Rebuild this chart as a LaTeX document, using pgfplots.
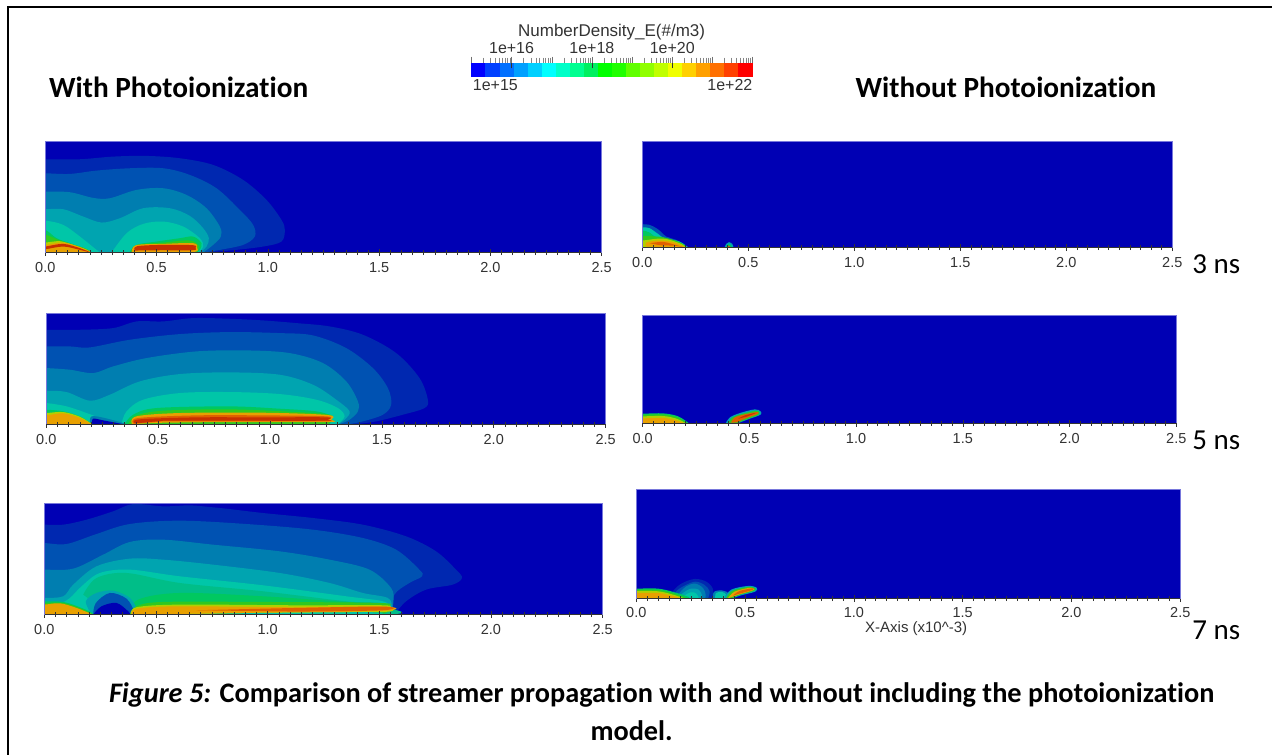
\documentclass[border=0pt]{standalone}
\usepackage{pgfplots}
\pgfplotsset{compat=1.18}
\usepackage{fontspec}
\setmainfont[Ligatures=NoCommon]{Carlito}
\newfontfamily\hv{Liberation Sans}
\definecolor{bg}{HTML}{0000B4}
\definecolor{ca}{HTML}{0028B0}
\definecolor{cb}{HTML}{0052B2}
\definecolor{cc}{HTML}{007EB0}
\definecolor{cd}{HTML}{00A4B0}
\definecolor{ce}{HTML}{00C6A8}
\definecolor{cp}{HTML}{00BE88}
\definecolor{cf}{HTML}{00C860}
\definecolor{cg}{HTML}{30C820}
\definecolor{ch}{HTML}{B0D000}
\definecolor{ci}{HTML}{E8A000}
\definecolor{cj}{HTML}{E06000}
\definecolor{ck}{HTML}{C83000}
\definecolor{edge}{HTML}{7878DC}
\definecolor{tk}{HTML}{333333}
\newcommand\Pg[2]{\addplot[fill=#1,draw=none,smooth,tension=0.55] coordinates {#2} -- cycle;}
\newcommand\Fs[1]{\fontsize{#1}{#1}\selectfont}
\pgfplotsset{
 pn/.style={scale only axis,xmin=0,xmax=2.5,ymin=0,
  axis background/.style={fill=bg},
  axis on top,
  axis x line*=bottom, axis y line=none,
  axis line style={tk,line width=0.8pt,-},
  xtick={0,0.5,1,1.5,2,2.5}, minor x tick num=9,
  tick align=center, major tick length=7pt, minor tick length=5pt,
  tick style={tk,line width=0.6pt},
  every minor tick/.style={tk,line width=0.4pt},
  x tick label style={/pgf/number format/.cd,fixed,fixed zerofill,precision=1,assume math mode=true,/tikz/.cd,font=\hv\Fs{14.5},text=tk,yshift=-3pt},
  filter discard warning=false,
  after end axis/.code={\draw[edge,line width=0.8pt] (rel axis cs:0,0) -- (rel axis cs:0,1) -- (rel axis cs:1,1) -- (rel axis cs:1,0);},
 }
}
\begin{document}
\begin{tikzpicture}[x=1pt,y=1pt]
\path (0,0) rectangle (1273,755);
\draw[black,line width=1.6pt] (8,0) -- (8,748) -- (1273,748);

% Panel 1
\begin{axis}[pn,at={(45.3pt,502.3pt)},anchor=south west,width=556.7pt,height=111pt,ymax=111,
  x filter/.expression={(x-46)/668},y filter/.expression={(368-y)/3}]
\Pg{ca}{(10,368)(10,88)(46,88)(150,88)(250,80)(350,78)(450,85)(550,105)(640,150)(710,210)(755,270)(765,300)(755,335)(700,350)(600,362)(520,368)}
\Pg{cb}{(10,368)(10,130)(46,130)(120,132)(200,122)(300,115)(400,115)(480,135)(560,175)(630,240)(670,285)(675,320)(640,345)(570,360)(520,368)}
\Pg{cc}{(10,368)(10,185)(46,185)(120,187)(190,204)(240,205)(320,180)(400,175)(470,195)(530,235)(570,290)(573,320)(550,345)(520,368)}
\Pg{cd}{(10,368)(10,238)(46,238)(100,238)(160,260)(215,278)(270,265)(340,235)(420,235)(480,258)(520,295)(537,325)(530,350)(510,368)}
\Pg{ce}{(10,368)(10,272)(46,272)(100,285)(150,320)(200,360)(212,368)}
\Pg{ce}{(245,368)(290,310)(340,282)(400,275)(460,290)(510,325)(520,350)(505,368)}
\Pg{cf}{(10,368)(10,300)(46,300)(80,325)(120,340)(150,350)(188,368)}
\Pg{cf}{(298,368)(320,345)(380,335)(450,325)(490,320)(515,340)(510,360)(500,368)}
\Pg{cg}{(10,368)(10,312)(46,314)(90,332)(130,345)(165,355)(186,368)}
\Pg{cg}{(303,368)(318,346)(400,338)(480,332)(508,350)(497,368)}
\Pg{ch}{(10,368)(10,338)(46,338)(90,334)(130,345)(165,357)(186,368)}
\Pg{ci}{(10,368)(10,345)(46,345)(100,338)(150,352)(184,368)}
\Pg{ci}{(306,368)(318,346)(400,342)(490,340)(502,354)(494,366)(400,366)}
\Pg{ck}{(10,352)(46,350)(100,342)(150,355)(182,368)(150,360)(100,350)(46,358)(10,358)}
\Pg{ck}{(314,362)(322,349)(400,345)(490,346)(497,354)(490,361)(400,361)}
\end{axis}

% Panel 2
\begin{axis}[pn,at={(46.3pt,330.7pt)},anchor=south west,width=559.7pt,height=111pt,ymax=111,
  x filter/.expression={(x-49)/672},y filter/.expression={(358-y)/3}]
\Pg{ca}{(10,358)(10,75)(49,75)(150,75)(250,70)(320,50)(400,50)(490,40)(600,42)(700,47)(800,55)(900,65)(1000,90)(1100,145)(1170,220)(1195,285)(1185,310)(1120,330)(1040,350)(980,358)}
\Pg{cb}{(10,358)(10,125)(49,125)(120,125)(180,128)(300,105)(450,88)(600,82)(750,85)(850,92)(950,130)(1030,190)(1075,250)(1085,300)(1060,330)(1000,350)(960,358)}
\Pg{cc}{(10,358)(10,190)(49,190)(120,195)(190,205)(250,185)(350,160)(500,140)(650,137)(780,145)(880,175)(950,230)(985,290)(985,320)(960,345)(930,358)}
\Pg{cd}{(10,358)(10,258)(49,258)(110,262)(180,288)(240,270)(330,230)(450,208)(600,203)(750,210)(850,240)(920,285)(960,320)(945,345)(925,358)}
\Pg{ce}{(10,358)(10,295)(49,295)(110,305)(170,325)(200,338)(190,358)}
\Pg{ce}{(275,358)(290,320)(340,285)(450,265)(600,262)(750,268)(860,285)(925,310)(945,335)(925,358)}
\Pg{cc}{(180,358)(185,335)(225,340)(290,358)}
\Pg{bg}{(186,358)(190,342)(220,347)(278,358)}
\Pg{cf}{(10,358)(10,315)(49,315)(100,320)(150,335)(188,358)}
\Pg{cf}{(285,358)(310,330)(380,310)(600,305)(750,312)(860,320)(905,335)(900,358)}
\Pg{cg}{(295,358)(318,333)(400,318)(600,314)(800,322)(900,330)(906,345)(895,358)}
\Pg{ch}{(10,358)(10,325)(49,325)(100,322)(150,336)(186,358)}
\Pg{ci}{(10,358)(10,332)(49,332)(100,326)(150,340)(184,358)}
\Pg{ci}{(306,358)(320,335)(450,325)(700,324)(895,331)(905,345)(895,352)(600,352)(400,354)}
\Pg{cj}{(312,357)(325,340)(500,332)(700,332)(890,335)(897,345)(885,350)(600,350)(400,350)}
\Pg{ck}{(316,356)(328,344)(500,338)(700,338)(890,338)(893,345)(885,348)(600,348)(400,348)}
\end{axis}

% Panel 3
\begin{axis}[pn,at={(44.3pt,140pt)},anchor=south west,width=558.7pt,height=111.7pt,ymax=111.7,
  x filter/.expression={(x-43)/671},y filter/.expression={(360-y)/3}]
\Pg{ca}{(10,360)(10,90)(43,90)(100,90)(170,75)(250,50)(310,28)(400,35)(480,32)(540,37)(590,42)(700,55)(850,70)(1000,90)(1130,125)(1220,170)(1280,225)(1298,250)(1270,270)(1190,285)(1130,320)(1095,360)}
\Pg{cb}{(10,360)(10,145)(43,145)(110,148)(200,118)(300,88)(450,78)(650,88)(850,105)(1000,130)(1100,165)(1170,225)(1178,245)(1140,265)(1095,300)(1088,360)}
\Pg{cc}{(10,360)(10,225)(43,225)(130,222)(220,180)(300,142)(400,135)(550,150)(750,170)(900,195)(1020,225)(1085,280)(1092,320)(1085,360)}
\Pg{cd}{(10,360)(10,310)(43,310)(100,305)(130,270)(200,215)(300,192)(400,195)(550,210)(750,235)(900,265)(1000,295)(1075,310)(1087,340)(1075,360)}
\Pg{ce}{(10,360)(10,320)(43,320)(90,325)(120,310)(155,275)(210,235)(300,225)(450,245)(700,272)(950,305)(1060,320)(1082,340)(1070,360)}
\Pg{cp}{(160,300)(200,250)(290,235)(450,265)(700,290)(950,320)(1050,325)(1080,340)(1060,360)(300,360)(200,330)}
\Pg{cf}{(300,360)(325,315)(450,295)(700,305)(950,322)(1050,327)(1078,340)(1060,360)}
\Pg{cd}{(185,360)(168,320)(200,295)(250,288)(300,310)(320,345)(300,360)}
\Pg{cb}{(190,360)(198,325)(240,295)(290,312)(312,350)(300,360)}
\Pg{bg}{(190,360)(215,335)(260,325)(295,350)(302,360)}
\Pg{cf}{(10,360)(10,320)(43,320)(100,322)(150,338)(188,355)(188,360)}
\Pg{cg}{(10,360)(10,325)(43,325)(100,325)(150,340)(186,358)}
\Pg{ci}{(10,360)(10,330)(43,330)(90,326)(140,340)(184,358)}
\Pg{cg}{(300,360)(320,335)(400,322)(700,322)(1050,325)(1080,335)(1075,352)(1050,356)}
\Pg{ch}{(304,360)(320,338)(450,330)(800,332)(1062,332)(1076,340)(1062,352)(700,356)}
\Pg{ci}{(306,360)(322,342)(450,335)(800,338)(1070,336)(1060,349)(700,354)}
\Pg{cj}{(500,347)(800,340)(1066,336)(1060,347)(800,351)}
\Pg{ce}{(420,360)(700,355)(1040,353)(1040,360)}
\end{axis}

% Panel 4
\begin{axis}[pn,at={(642.7pt,507.3pt)},anchor=south west,width=530.3pt,height=106.7pt,ymax=106.7,
  x filter/.expression={(x-38)/636.4},y filter/.expression={(113-y)/3}]
\Pg{cb}{(10,113)(10,43)(38,43)(60,45)(85,58)(110,80)(140,90)(177,113)}
\Pg{ce}{(10,113)(10,52)(38,52)(60,55)(85,72)(105,85)(150,95)(176,113)}
\Pg{cf}{(10,113)(10,62)(38,62)(60,68)(85,85)(140,95)(173,113)}
\Pg{cg}{(10,113)(10,78)(38,78)(100,82)(150,97)(172,113)}
\Pg{ch}{(10,113)(10,92)(38,92)(100,86)(150,100)(171,113)}
\Pg{ci}{(50,110)(50,98)(90,92)(135,98)(168,113)}
\Pg{cj}{(60,100)(100,96)(130,103)(165,113)(140,108)(90,106)}
\Pg{cd}{(285,113)(290,102)(298,97)(308,102)(312,113)}
\Pg{cf}{(290,113)(293,106)(298,102)(304,106)(307,113)}
\Pg{cj}{(294,113)(298,107)(303,113)}
\end{axis}

% Panel 5
\begin{axis}[pn,at={(643pt,331.7pt)},anchor=south west,width=534pt,height=107.3pt,ymax=107.3,
  x filter/.expression={(x-38)/640.8},y filter/.expression={(85-y)/3}]
\Pg{cf}{(10,85)(10,57)(38,57)(100,56)(145,65)(176,85)}
\Pg{cg}{(10,85)(10,60)(38,60)(100,59)(142,68)(172,85)}
\Pg{ch}{(10,85)(10,65)(38,65)(100,64)(140,72)(167,85)}
\Pg{ci}{(10,85)(10,71)(38,71)(100,70)(135,76)(162,85)}
\Pg{cd}{(288,85)(300,68)(330,55)(375,44)(392,50)(392,60)(360,72)(325,85)}
\Pg{cg}{(296,85)(308,68)(335,58)(378,48)(388,53)(385,61)(355,72)(322,85)}
\Pg{cj}{(303,84)(315,68)(340,60)(382,52)(383,58)(350,70)(320,83)}
\Pg{ck}{(325,72)(345,62)(380,54)(350,66)}
\end{axis}

% Panel 6
\begin{axis}[pn,at={(636.7pt,156pt)},anchor=south west,width=544.3pt,height=109pt,ymax=109,
  x filter/.expression={(x-35)/653},y filter/.expression={(117-y)/3},
  x tick label style={yshift=1pt}]
\Pg{ca}{(140,117)(145,95)(170,72)(210,58)(245,66)(265,88)(262,117)}
\Pg{cb}{(150,117)(155,95)(180,78)(212,66)(240,76)(255,95)(250,117)}
\Pg{cc}{(160,105)(185,80)(212,72)(235,85)(243,105)(235,117)(170,117)}
\Pg{cd}{(165,108)(195,88)(222,90)(232,108)(225,117)(175,117)}
\Pg{ce}{(172,112)(198,98)(215,102)(220,117)(180,117)}
\Pg{cf}{(10,117)(10,87)(35,87)(100,87)(150,98)(192,112)(192,117)}
\Pg{cg}{(10,117)(10,90)(35,90)(100,91)(150,102)(188,117)}
\Pg{ch}{(10,117)(10,94)(35,94)(100,95)(145,105)(182,117)}
\Pg{ci}{(10,117)(10,100)(35,100)(100,100)(140,108)(175,117)}
\Pg{cc}{(264,117)(268,97)(290,92)(310,100)(305,117)}
\Pg{ce}{(272,117)(274,100)(292,97)(304,104)(298,117)}
\Pg{cd}{(298,117)(320,90)(370,79)(396,84)(392,96)(350,107)(322,117)}
\Pg{cg}{(304,117)(322,94)(370,82)(392,86)(388,94)(350,104)(322,116)}
\Pg{ci}{(310,116)(330,96)(372,85)(388,87)(385,92)(345,104)}
\Pg{cj}{(325,108)(345,94)(385,86)(383,91)(345,102)}
\end{axis}

% Colour bar
\begin{axis}[scale only axis,at={(471.7pt,678.3pt)},anchor=south west,width=281.3pt,height=14pt,
  xmin=15,xmax=22,ymin=0,ymax=1,axis y line=none,axis x line*=top,
  axis line style={draw=none},axis on top,
  xtick={15,16,17,18,19,20,21,22},xticklabels={,1e+16,,1e+18,,1e+20,,},
  minor xtick={15.301,15.477,15.602,15.699,15.778,15.845,15.903,15.954,16.301,16.477,16.602,16.699,16.778,16.845,16.903,16.954,17.301,17.477,17.602,17.699,17.778,17.845,17.903,17.954,18.301,18.477,18.602,18.699,18.778,18.845,18.903,18.954,19.301,19.477,19.602,19.699,19.778,19.845,19.903,19.954,20.301,20.477,20.602,20.699,20.778,20.845,20.903,20.954,21.301,21.477,21.602,21.699,21.778,21.845,21.903,21.954},
  tick align=outside,major tick length=6pt,minor tick length=5pt,
  tick style={color=tk!70,line width=0.4pt},
  every minor tick/.style={color=tk!60,line width=0.4pt},
  x tick label style={font=\hv\Fs{16},text=tk,yshift=-1pt},clip=false]
\addplot[fill={rgb,255:red,0;green,0;blue,255},draw=none] coordinates {(15,0)(15,1)(15.35,1)(15.35,0)} -- cycle;
\addplot[fill={rgb,255:red,0;green,64;blue,255},draw=none] coordinates {(15.35,0)(15.35,1)(15.7,1)(15.7,0)} -- cycle;
\addplot[fill={rgb,255:red,0;green,112;blue,255},draw=none] coordinates {(15.7,0)(15.7,1)(16.05,1)(16.05,0)} -- cycle;
\addplot[fill={rgb,255:red,0;green,160;blue,255},draw=none] coordinates {(16.05,0)(16.05,1)(16.4,1)(16.4,0)} -- cycle;
\addplot[fill={rgb,255:red,0;green,208;blue,255},draw=none] coordinates {(16.4,0)(16.4,1)(16.75,1)(16.75,0)} -- cycle;
\addplot[fill={rgb,255:red,0;green,255;blue,255},draw=none] coordinates {(16.75,0)(16.75,1)(17.1,1)(17.1,0)} -- cycle;
\addplot[fill={rgb,255:red,0;green,255;blue,200},draw=none] coordinates {(17.1,0)(17.1,1)(17.45,1)(17.45,0)} -- cycle;
\addplot[fill={rgb,255:red,0;green,255;blue,144},draw=none] coordinates {(17.45,0)(17.45,1)(17.8,1)(17.8,0)} -- cycle;
\addplot[fill={rgb,255:red,0;green,240;blue,96},draw=none] coordinates {(17.8,0)(17.8,1)(18.15,1)(18.15,0)} -- cycle;
\addplot[fill={rgb,255:red,0;green,255;blue,0},draw=none] coordinates {(18.15,0)(18.15,1)(18.5,1)(18.5,0)} -- cycle;
\addplot[fill={rgb,255:red,32;green,255;blue,0},draw=none] coordinates {(18.5,0)(18.5,1)(18.85,1)(18.85,0)} -- cycle;
\addplot[fill={rgb,255:red,96;green,255;blue,0},draw=none] coordinates {(18.85,0)(18.85,1)(19.2,1)(19.2,0)} -- cycle;
\addplot[fill={rgb,255:red,144;green,255;blue,0},draw=none] coordinates {(19.2,0)(19.2,1)(19.55,1)(19.55,0)} -- cycle;
\addplot[fill={rgb,255:red,192;green,255;blue,0},draw=none] coordinates {(19.55,0)(19.55,1)(19.9,1)(19.9,0)} -- cycle;
\addplot[fill={rgb,255:red,240;green,255;blue,0},draw=none] coordinates {(19.9,0)(19.9,1)(20.25,1)(20.25,0)} -- cycle;
\addplot[fill={rgb,255:red,255;green,208;blue,0},draw=none] coordinates {(20.25,0)(20.25,1)(20.6,1)(20.6,0)} -- cycle;
\addplot[fill={rgb,255:red,255;green,160;blue,0},draw=none] coordinates {(20.6,0)(20.6,1)(20.95,1)(20.95,0)} -- cycle;
\addplot[fill={rgb,255:red,255;green,112;blue,0},draw=none] coordinates {(20.95,0)(20.95,1)(21.3,1)(21.3,0)} -- cycle;
\addplot[fill={rgb,255:red,255;green,64;blue,0},draw=none] coordinates {(21.3,0)(21.3,1)(21.65,1)(21.65,0)} -- cycle;
\addplot[fill={rgb,255:red,255;green,0;blue,0},draw=none] coordinates {(21.65,0)(21.65,1)(22,1)(22,0)} -- cycle;
\addplot[tk,line width=0.5pt] coordinates {(16,0.6)(16,1)};
\addplot[tk,line width=0.5pt] coordinates {(18,0.6)(18,1)};
\addplot[tk,line width=0.5pt] coordinates {(20,0.6)(20,1)};
\end{axis}

% Text
\node[font=\hv\Fs{17},text=tk,anchor=center] at (612,723) {NumberDensity\_E(\#/m3)};
\node[font=\hv\Fs{16},text=tk,anchor=base west,inner sep=0pt] at (473,664) {1e+15};
\node[font=\hv\Fs{16},text=tk,anchor=base east,inner sep=0pt] at (753,664) {1e+22};
\node[font=\bfseries\Fs{29.3},anchor=base west,inner sep=0pt] at (49,657) {With Photoionization};
\node[font=\bfseries\Fs{29.3},anchor=base west,inner sep=0pt] at (856,657) {Without Photoionization};
\node[font=\Fs{29},anchor=base west,inner sep=0pt] at (1193,481) {3 ns};
\node[font=\Fs{29},anchor=base west,inner sep=0pt] at (1193,305) {5 ns};
\node[font=\Fs{29},anchor=base west,inner sep=0pt] at (1193,115) {7 ns};
\node[font=\hv\Fs{15},text=tk,anchor=base east,inner sep=0pt] at (968,122) {X-Axis (x10\^{}-3)};
\node[font=\bfseries\Fs{28.3},anchor=base,inner sep=0pt] at (662,52) {\textit{Figure 5:} Comparison of streamer propagation with and without including the photoionization};
\node[font=\bfseries\Fs{28.3},anchor=base,inner sep=0pt] at (632,14) {model.};
\end{tikzpicture}
\end{document}
